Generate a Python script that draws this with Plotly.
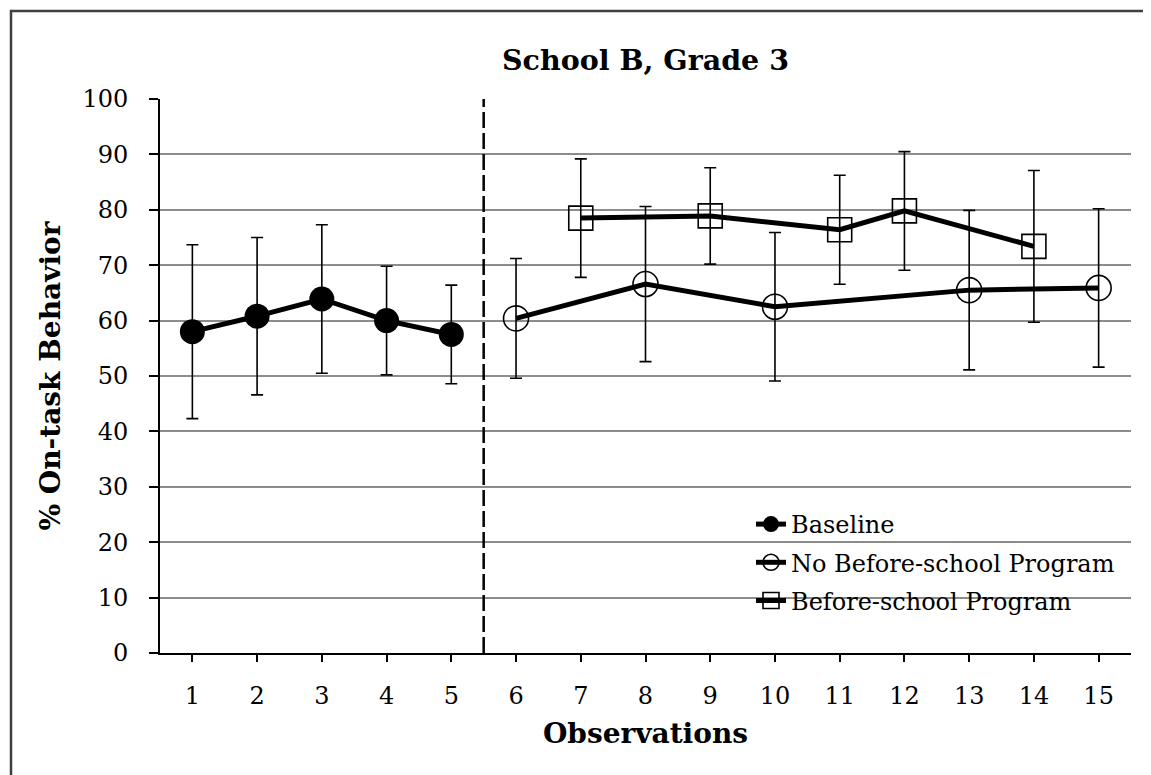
import plotly.graph_objects as go

# ---- data ----
observations = list(range(1, 16))
y_ticks = list(range(0, 101, 10))

baseline_x = [1, 2, 3, 4, 5]
baseline_y = [58.0, 60.8, 63.9, 60.0, 57.5]
baseline_err = [15.7, 14.2, 13.4, 9.8, 8.9]

no_program_x = [6, 8, 10, 13, 15]
no_program_y = [60.4, 66.6, 62.5, 65.5, 65.9]
no_program_err = [10.8, 14.0, 13.4, 14.4, 14.3]

program_x = [7, 9, 11, 12, 14]
program_y = [78.5, 78.9, 76.4, 79.8, 73.4]
program_err = [10.7, 8.7, 9.85, 10.7, 13.7]

phase_change = 5.5

FONT = "DejaVu Serif"
W, H = 1151, 775
L, R, T, B = 152, 28, 91, 130
PW, PH = W - L - R, H - T - B


def px_to_paper_x(px):
    return (px - L) / PW


def px_to_paper_y(py):
    return (H - B - py) / PH


def err(vals):
    return dict(type="data", array=vals, visible=True, color="black",
                thickness=1.6, width=6)


fig = go.Figure()
fig.add_trace(go.Scatter(
    x=baseline_x, y=baseline_y, name="Baseline", mode="lines+markers",
    legendgroup="a",
    line=dict(color="black", width=5),
    marker=dict(symbol="circle", size=25, color="black"),
    error_y=err(baseline_err)))
fig.add_trace(go.Scatter(
    x=no_program_x, y=no_program_y, name="No Before-school Program",
    legendgroup="b",
    mode="lines+markers", line=dict(color="black", width=5),
    marker=dict(symbol="circle-open", size=25, color="black",
                line=dict(width=1.6, color="black")),
    error_y=err(no_program_err)))
fig.add_trace(go.Scatter(
    x=program_x, y=program_y, name="Before-school Program",
    legendgroup="c",
    mode="lines+markers", line=dict(color="black", width=5),
    marker=dict(symbol="square-open", size=24, color="black",
                line=dict(width=1.6, color="black")),
    error_y=err(program_err)))

# phase change line
fig.add_shape(type="line", xref="x", yref="paper", x0=phase_change,
              x1=phase_change, y0=0, y1=1,
              line=dict(color="black", width=2.5, dash="16px,5px"))
# outer chart border
fig.add_shape(type="rect", xref="paper", yref="paper",
              x0=px_to_paper_x(3), x1=px_to_paper_x(1148),
              y0=px_to_paper_y(773), y1=px_to_paper_y(3),
              line=dict(color="#404040", width=2.5), layer="below")

fig.update_layout(
    width=W, height=H,
    margin=dict(l=L, r=R, t=T, b=B),
    paper_bgcolor="white", plot_bgcolor="white",
    font=dict(family=FONT, color="black", size=23),
    title=dict(text="<b>School B, Grade 3</b>", x=0.5, xanchor="center",
               xref="paper", y=1 - 52 / H, yanchor="middle",
               font=dict(family=FONT, size=28.5, color="black")),
    showlegend=True,
    legend=dict(x=px_to_paper_x(743), y=px_to_paper_y(494),
                xanchor="left", yanchor="top",
                bgcolor="rgba(0,0,0,0)", font=dict(family=FONT, size=24),
                tracegroupgap=4, itemwidth=30),
)
fig.update_xaxes(
    range=[0.5, 15.5], tickmode="array", tickvals=observations,
    ticktext=[str(v) for v in observations],
    showline=True, linecolor="black", linewidth=2, mirror=False,
    ticks="outside", ticklen=7, tickwidth=1.5, tickcolor="black",
    ticklabelstandoff=13, showgrid=False, zeroline=False,
    tickfont=dict(family=FONT, size=24),
    title=dict(text="<b>Observations</b>", standoff=15,
               font=dict(family=FONT, size=28)),
)
fig.update_yaxes(
    range=[0, 100], tickmode="array", tickvals=y_ticks,
    showline=True, linecolor="black", linewidth=2,
    ticks="outside", ticklen=9, tickwidth=1.5, tickcolor="black",
    ticklabelstandoff=16, showgrid=True, gridcolor="#8c8c8c", gridwidth=1.5,
    zeroline=False, tickfont=dict(family=FONT, size=24),
    title=dict(text="<b>% On-task Behavior</b>", standoff=14,
               font=dict(family=FONT, size=28)),
)

fig.write_html("out.html")
